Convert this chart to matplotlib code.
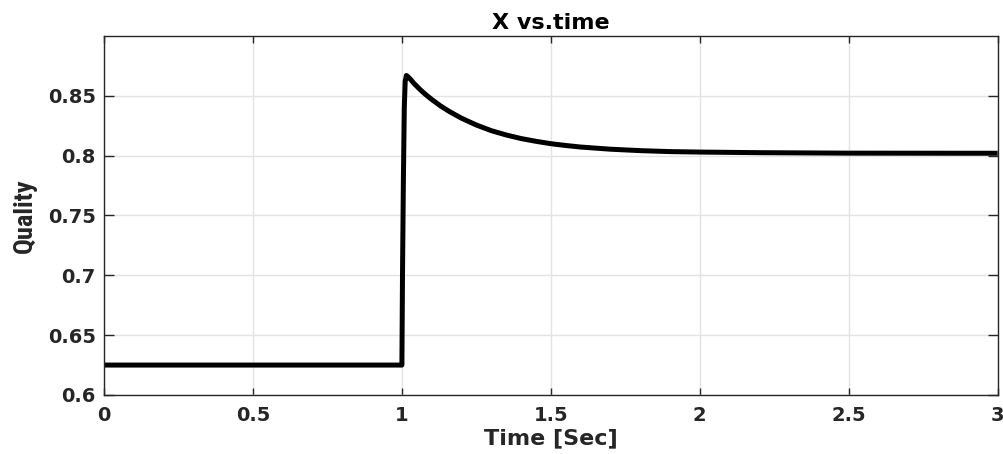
import matplotlib
matplotlib.use("Agg")
import matplotlib.pyplot as plt

# Values
time_sec = [0.0, 1.0, 1.002, 1.005, 1.008, 1.011, 1.015, 1.02, 1.03, 1.04,
            1.05, 1.06, 1.08, 1.10, 1.13, 1.16, 1.20, 1.25, 1.30, 1.35,
            1.40, 1.45, 1.50, 1.55, 1.60, 1.70, 1.80, 1.90, 2.00, 2.20,
            2.50, 3.00]
quality = [0.625, 0.625, 0.700, 0.780, 0.840, 0.862, 0.867, 0.866, 0.8635, 0.8605,
           0.858, 0.8555, 0.851, 0.847, 0.8415, 0.8368, 0.8313, 0.8256, 0.8209, 0.8173,
           0.8143, 0.8120, 0.8100, 0.8085, 0.8072, 0.8054, 0.8042, 0.8034, 0.8030, 0.8025,
           0.8021, 0.8020]

x_ticks = [0, 0.5, 1, 1.5, 2, 2.5, 3]
x_tick_labels = ["0", "0.5", "1", "1.5", "2", "2.5", "3"]
y_ticks = [0.6, 0.65, 0.7, 0.75, 0.8, 0.85]
y_tick_labels = ["0.6", "0.65", "0.7", "0.75", "0.8", "0.85"]

plt.rcParams["font.family"] = ["DejaVu Sans"]

fig = plt.figure(figsize=(10.04, 4.54), dpi=100)
ax = fig.add_axes([0.1036, 0.130, 0.8901, 0.7907])

ax.plot(time_sec, quality, color="black", linewidth=3.6,
        solid_joinstyle="round", solid_capstyle="butt")

ax.set_xlim(0, 3)
ax.set_ylim(0.6, 0.9)
ax.set_xticks(x_ticks)
ax.set_xticklabels(x_tick_labels, fontsize=14, fontweight="bold", color="#262626")
ax.set_yticks(y_ticks)
ax.set_yticklabels(y_tick_labels, fontsize=14, fontweight="bold", color="#262626")

ax.grid(True, color="#e3e3e3", linewidth=1.0)
ax.set_axisbelow(True)
ax.tick_params(axis="x", direction="in", length=5, width=1, colors="#262626",
               top=True, pad=8)
ax.tick_params(axis="y", direction="in", length=7, width=1, colors="#262626",
               right=True, pad=6)
for s in ax.spines.values():
    s.set_color("#262626")
    s.set_linewidth(1.0)

ax.set_title("X vs.time", fontsize=16, fontweight="bold", color="black", pad=5)
ax.set_xlabel("Time [Sec]", fontsize=16, fontweight="bold", color="#262626", labelpad=2)
ax.set_ylabel("Quality", fontsize=19, fontweight="bold", color="#262626",
              family=["Roboto Condensed", "Liberation Sans"], labelpad=8)

fig.savefig("out.png", dpi=100)
